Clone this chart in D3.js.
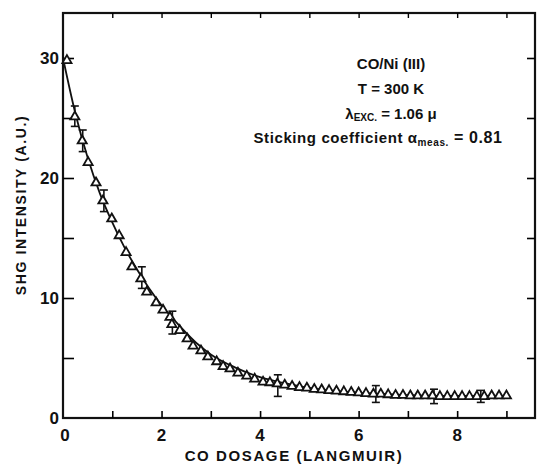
<!DOCTYPE html>
<html>
<head>
<meta charset="utf-8">
<script src="https://cdnjs.cloudflare.com/ajax/libs/d3/7.8.5/d3.min.js"></script>
<style>
  body { margin: 0; background: #fff; }
  text { font-family: "Liberation Sans", Arial, sans-serif; font-weight: bold; fill: #111; }
</style>
</head>
<body>
<svg width="539" height="466"></svg>
<script>
// measured points (dosage in Langmuir, SHG intensity in a.u.)
var dosage = [0.08, 0.24, 0.39, 0.51, 0.67, 0.81, 0.99, 1.14, 1.28, 1.40, 1.58, 1.70, 1.89, 2.03,
  2.17, 2.21, 2.37, 2.52, 2.64, 2.80, 2.94, 3.12, 3.25, 3.39, 3.55, 3.73, 3.89, 4.06,
  4.20, 4.35, 4.50, 4.65, 4.80, 4.95, 5.10, 5.25, 5.40, 5.55, 5.70, 5.85, 6.00, 6.15,
  6.30, 6.45, 6.60, 6.75, 6.90, 7.05, 7.20, 7.35, 7.50, 7.65, 7.80, 7.95, 8.10, 8.25,
  8.40, 8.55, 8.70, 8.85, 9.00];
var intensity = [29.8, 25.1, 23.1, 21.3, 19.6, 18.1, 16.6, 15.2, 13.8, 12.6, 11.6, 10.5, 9.6, 9.0,
  8.4, 7.8, 7.3, 6.6, 6.0, 5.6, 5.1, 4.7, 4.3, 4.1, 3.75, 3.5, 3.25, 3.0,
  2.95, 2.85, 2.75, 2.65, 2.55, 2.5, 2.4, 2.35, 2.3, 2.25, 2.2, 2.15, 2.1, 2.05,
  2.0, 2.0, 1.95, 1.9, 1.9, 1.85, 1.85, 1.85, 1.85, 1.8, 1.8, 1.8, 1.8, 1.8,
  1.8, 1.8, 1.85, 1.85, 1.85];

// error bars
var errX = [0.24, 0.40, 0.83, 1.60, 2.22, 4.36, 6.35, 7.53, 8.48];
var errLo = [24.3, 22.2, 17.2, 10.8, 7.0, 1.8, 1.3, 1.2, 1.3];
var errHi = [26.0, 24.0, 19.0, 12.6, 8.9, 3.6, 2.7, 2.4, 2.3];

// fitted curve as traced
var fitX = [0, 0.25, 0.5, 0.75, 1, 1.25, 1.5, 1.75, 2, 2.25, 2.5, 2.75, 3, 3.5, 4, 4.5, 5, 5.5, 6, 6.5, 7, 7.5, 8, 8.5, 9.05];
var fitY = [30, 25.4, 21.7, 18.7, 16.3, 14.2, 12.4, 10.8, 9.4, 8.2, 7.1, 6.1, 5.3, 4.2, 3.4, 2.9, 2.5, 2.25, 2.1, 2.0, 1.9, 1.85, 1.85, 1.85, 1.85];

var xTicks = [0, 2, 4, 6, 8];
var yTicks = [0, 10, 20, 30];

var svg = d3.select("svg");
var pl = 63, pt = 13, pr = 535, pb = 418;

var x = d3.scaleLinear().domain([0, 9.58]).range([pl, pr]);
var y = d3.scaleLinear().domain([0, 33.75]).range([pb, pt]);

// frame
svg.append("rect")
  .attr("x", pl).attr("y", pt)
  .attr("width", pr - pl).attr("height", pb - pt)
  .attr("fill", "none").attr("stroke", "#111").attr("stroke-width", 2.2);

// axes with inward ticks
svg.append("g")
  .attr("transform", "translate(0," + pb + ")")
  .call(d3.axisBottom(x).tickValues(d3.range(1, 10)).tickSizeInner(-7).tickSizeOuter(0).tickFormat(""))
  .call(function(g) { g.select(".domain").remove(); g.selectAll("line").attr("stroke-width", 1.6); });

svg.append("g")
  .attr("transform", "translate(0," + pt + ")")
  .call(d3.axisTop(x).tickValues(d3.range(1, 10)).tickSizeInner(-5).tickSizeOuter(0).tickFormat(""))
  .call(function(g) { g.select(".domain").remove(); g.selectAll("line").attr("stroke-width", 1.4); });

svg.append("g")
  .attr("transform", "translate(" + pl + ",0)")
  .call(d3.axisLeft(y).tickValues([5, 10, 15, 20, 25, 30]).tickSizeInner(-11).tickSizeOuter(0).tickFormat(""))
  .call(function(g) { g.select(".domain").remove(); g.selectAll("line").attr("stroke-width", 1.6); });

svg.append("g")
  .attr("transform", "translate(" + pr + ",0)")
  .call(d3.axisRight(y).tickValues([5, 10, 15, 20, 25, 30]).tickSizeInner(-8).tickSizeOuter(0).tickFormat(""))
  .call(function(g) { g.select(".domain").remove(); g.selectAll("line").attr("stroke-width", 1.6); });

// tick labels
svg.append("g").selectAll("text")
  .data(xTicks)
  .enter().append("text")
  .attr("x", function(d) { return x(d) + (d == 0 ? 2 : 0); })
  .attr("y", pb + 23)
  .attr("text-anchor", "middle")
  .attr("font-size", 17)
  .text(function(d) { return d; });

svg.append("g").selectAll("text")
  .data(yTicks)
  .enter().append("text")
  .attr("x", pl - 4)
  .attr("y", function(d) { return y(d) + 6; })
  .attr("text-anchor", "end")
  .attr("font-size", 17)
  .text(function(d) { return d; });

// axis titles
svg.append("text")
  .attr("x", 294).attr("y", 461)
  .attr("text-anchor", "middle")
  .attr("font-size", 15)
  .attr("letter-spacing", 1.6)
  .text("CO DOSAGE (LANGMUIR)");

svg.append("text")
  .attr("transform", "translate(26,205) rotate(-90)")
  .attr("text-anchor", "middle")
  .attr("font-size", 14)
  .attr("letter-spacing", 1.6)
  .text("SHG INTENSITY (A.U.)");

// fit line
var line = d3.line()
  .x(function(d, i) { return x(fitX[i]); })
  .y(function(d, i) { return y(fitY[i]); })
  .curve(d3.curveMonotoneX);

svg.append("path")
  .datum(fitX)
  .attr("d", line)
  .attr("fill", "none")
  .attr("stroke", "#111")
  .attr("stroke-width", 1.8);

// error bars
var err = svg.append("g").selectAll("g")
  .data(errX)
  .enter().append("g");
err.append("line")
  .attr("x1", function(d) { return x(d); }).attr("x2", function(d) { return x(d); })
  .attr("y1", function(d, i) { return y(errLo[i]); }).attr("y2", function(d, i) { return y(errHi[i]); })
  .attr("stroke", "#111").attr("stroke-width", 1.6);
err.append("line")
  .attr("x1", function(d) { return x(d) - 4; }).attr("x2", function(d) { return x(d) + 4; })
  .attr("y1", function(d, i) { return y(errHi[i]); }).attr("y2", function(d, i) { return y(errHi[i]); })
  .attr("stroke", "#111").attr("stroke-width", 1.6);
err.append("line")
  .attr("x1", function(d) { return x(d) - 4; }).attr("x2", function(d) { return x(d) + 4; })
  .attr("y1", function(d, i) { return y(errLo[i]); }).attr("y2", function(d, i) { return y(errLo[i]); })
  .attr("stroke", "#111").attr("stroke-width", 1.6);

// triangles
var tri = d3.symbol().type(d3.symbolTriangle).size(36);
svg.append("g").selectAll("path")
  .data(dosage)
  .enter().append("path")
  .attr("d", tri)
  .attr("transform", function(d, i) { return "translate(" + x(d) + "," + y(intensity[i]) + ")"; })
  .attr("fill", "#fff")
  .attr("stroke", "#111")
  .attr("stroke-width", 1.8);

// annotation
var ann = svg.append("g").attr("text-anchor", "middle");
ann.append("text").attr("x", 391).attr("y", 69).attr("font-size", 15).text("CO/Ni (III)");
ann.append("text").attr("x", 391).attr("y", 94).attr("font-size", 15).text("T = 300 K");
var lam = ann.append("text").attr("x", 391).attr("y", 119).attr("font-size", 15);
lam.append("tspan").text("λ");
lam.append("tspan").attr("font-size", 10).attr("dy", 2).text("EXC.");
lam.append("tspan").attr("dy", -2).text(" = 1.06 μ");
var stick = ann.append("text").attr("x", 378).attr("y", 143).attr("font-size", 15).attr("letter-spacing", 0.6);
stick.append("tspan").text("Sticking coefficient α");
stick.append("tspan").attr("font-size", 10).attr("dy", 3).text("meas.");
stick.append("tspan").attr("dy", -3).attr("font-size", 16).text(" = 0.81");
</script>
</body>
</html>
